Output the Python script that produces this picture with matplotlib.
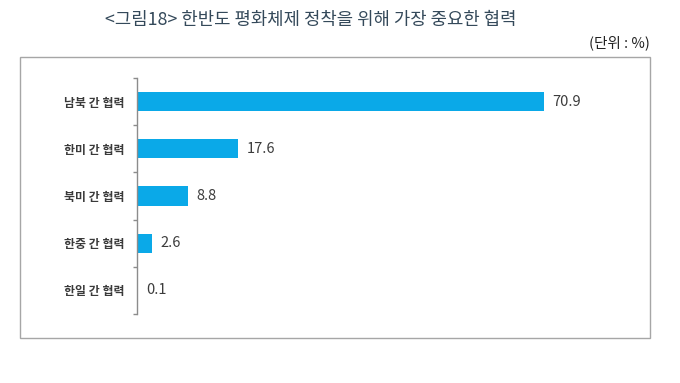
import matplotlib
matplotlib.use('Agg')
import matplotlib.pyplot as plt
from matplotlib.patches import Rectangle
import numpy as np

plt.rcParams['font.family'] = ['Noto Sans CJK KR', 'DejaVu Sans']

title = '<그림18> 한반도 평화체제 정착을 위해 가장 중요한 협력'
unit = '(단위 : %)'
categories = ['남북 간 협력', '한미 간 협력', '북미 간 협력', '한중 간 협력', '한일 간 협력']
values = [70.9, 17.6, 8.8, 2.6, 0.1]

W, H = 680, 383
fig = plt.figure(figsize=(W / 100, H / 100), dpi=100)

# outer frame around the chart
fig.patches.append(Rectangle((20 / W, 1 - 338 / H), 630 / W, 281 / H,
                             transform=fig.transFigure, fill=False,
                             edgecolor='#a6a6a6', linewidth=1.0))

fig.text(105 / W, 1 - 20 / H, title, fontsize=12.8, color='#34495a',
         ha='left', va='center')
fig.text(650 / W, 1 - 43 / H, unit, fontsize=10.5, color='#222222',
         ha='right', va='center')

ax = fig.add_axes([137 / W, 1 - 314 / H, 517 / W, 236 / H])
y = np.arange(len(categories))
ax.barh(y, values, height=0.41, color='#0aa9e8')
ax.set_xlim(0, 90)
ax.set_ylim(len(categories) - 0.5, -0.5)

for yi, v in zip(y, values):
    ax.annotate(f'{v:.1f}', (v, yi), xytext=(6, 0), textcoords='offset points',
                va='center', ha='left', fontsize=10.5, color='#3c3c3c')

for s in ['top', 'right', 'bottom']:
    ax.spines[s].set_visible(False)
ax.spines['left'].set_color('#8c8c8c')
ax.spines['left'].set_linewidth(1.0)
ax.set_xticks([])
ax.set_yticks(y)
ax.set_yticklabels(categories, fontsize=8.6, fontweight='bold', color='#3a3a3a')
ax.tick_params(axis='y', which='major', length=0, pad=9)
ax.set_yticks(np.arange(len(categories) + 1) - 0.5, minor=True)
ax.tick_params(axis='y', which='minor', length=3, width=1.0, color='#8c8c8c')

fig.savefig('out.png', dpi=100)
